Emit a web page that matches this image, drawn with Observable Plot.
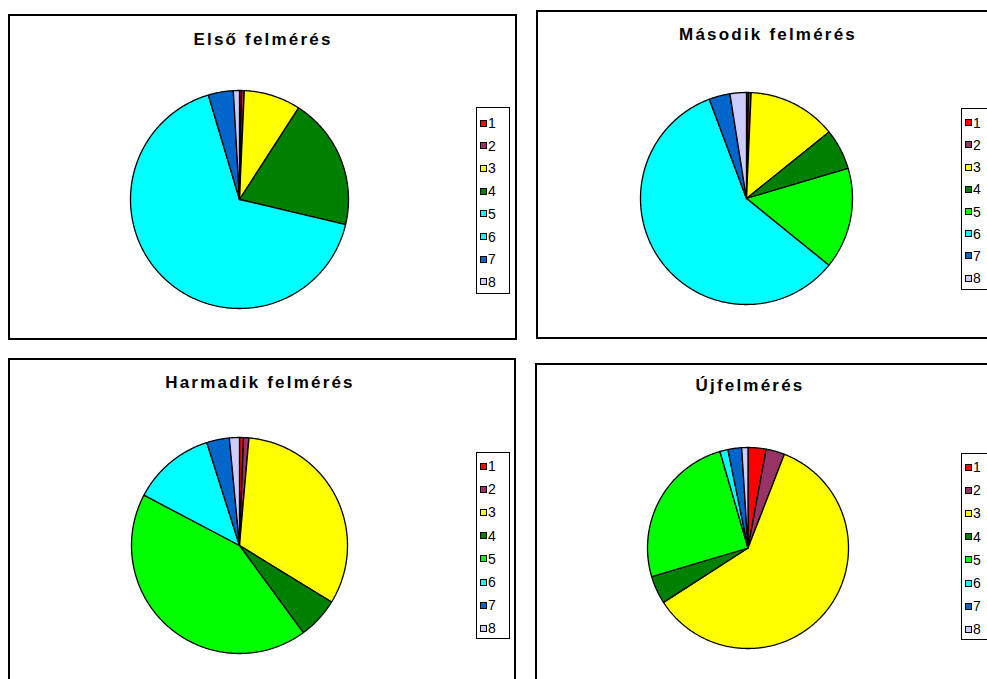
<!DOCTYPE html>
<html>
<head>
<meta charset="utf-8">
<script src="https://cdn.jsdelivr.net/npm/d3@7"></script>
<script src="https://cdn.jsdelivr.net/npm/@observablehq/plot@0.6"></script>
<style>
  html, body { margin: 0; padding: 0; background: #fff; }
  body { width: 987px; height: 679px; overflow: hidden; position: relative; font-family: "Liberation Sans", Arial, sans-serif; }
  .panel { position: absolute; border: 2px solid #000; box-sizing: border-box; background: #fff; }
  .title { position: absolute; font-weight: bold; font-size: 17px; letter-spacing: 2.2px; transform: translate(-50%, -50%); white-space: nowrap; color: #000; }
  .legend { position: absolute; border: 1px solid #000; box-sizing: border-box; background: #fff; }
  .item { position: absolute; font-size: 14px; line-height: 14px; color: #000; }
  .sw { position: absolute; width: 5px; height: 5px; border: 1px solid #000; }
  .pie { position: absolute; }
</style>
</head>
<body>
<script>
// ---- data ----
const categories = ["1", "2", "3", "4", "5", "6", "7", "8"];
const titles = ["Első felmérés", "Második felmérés", "Harmadik felmérés", "Újfelmérés"];
const elso      = [0.3, 0.4,  8.4, 19.5, 66.5,  0.0, 3.7, 0.9];
const masodik   = [0.3, 0.4, 13.5,  6.2, 15.4, 58.4, 3.2, 2.5];
const harmadik  = [0.6, 0.8, 32.4,  6.2, 42.8, 12.4, 3.4, 1.5];
const ujfelmeres= [2.9, 3.0, 60.0,  4.5, 25.1,  1.3, 2.2, 1.0];

// ---- styles ----
const baseColors  = ["#FF0000", "#993366", "#FFFF00", "#008000", "#00FF00", "#00FFFF", "#0066CC", "#CCCCFF"];
const firstColors = ["#FF0000", "#993366", "#FFFF00", "#008000", "#00FFFF", "#00FFFF", "#0066CC", "#CCCCFF"];

const panels = [
  {values: elso, colors: firstColors, box: [8, 14, 509, 326], title: [263, 40], pie: [239, 199, 109], legend: [476, 107, 34, 187, 123, 22.7]},
  {values: masodik, colors: baseColors, box: [536, 10, 470, 329], title: [768, 35], pie: [746, 198, 106], legend: [961, 108, 40, 182, 122.7, 22.2]},
  {values: harmadik, colors: baseColors, box: [8, 358, 508, 340], title: [260, 383], pie: [239, 545, 108], legend: [476, 452, 34, 187, 466, 23.2]},
  {values: ujfelmeres, colors: baseColors, box: [535, 363, 470, 340], title: [750, 386], pie: [747, 547, 100.5], legend: [961, 453, 40, 187, 467, 23.2]}
];

function piePlot(values, colors, R) {
  const arcs = d3.pie().sort(null).value(d => d.v)(categories.map((c, i) => ({c, v: values[i]})));
  const pts = [];
  for (const a of arcs) {
    if (!(a.data.v > 0)) continue;
    pts.push({c: a.data.c, x: 0, y: 0});
    const n = Math.max(2, Math.ceil((a.endAngle - a.startAngle) / 0.01));
    for (let k = 0; k <= n; k++) {
      const t = a.startAngle + (a.endAngle - a.startAngle) * k / n;
      pts.push({c: a.data.c, x: Math.sin(t), y: Math.cos(t)});
    }
    pts.push({c: a.data.c, x: 0, y: 0});
  }
  const size = 2 * R + 8;
  const ext = size / (2 * R);
  return Plot.plot({
    width: size, height: size, margin: 0,
    style: {background: "transparent"},
    x: {domain: [-ext, ext], axis: null},
    y: {domain: [-ext, ext], axis: null},
    color: {domain: categories, range: colors},
    marks: [
      Plot.line(pts, {x: "x", y: "y", z: "c", fill: "c", stroke: "#000", strokeWidth: 1.3, strokeLinejoin: "miter"})
    ]
  });
}

panels.forEach((p, idx) => {
  const box = document.createElement("div");
  box.className = "panel";
  Object.assign(box.style, {left: p.box[0] + "px", top: p.box[1] + "px", width: p.box[2] + "px", height: p.box[3] + "px"});
  document.body.appendChild(box);

  const t = document.createElement("div");
  t.className = "title";
  t.textContent = titles[idx];
  Object.assign(t.style, {left: p.title[0] + "px", top: p.title[1] + "px"});
  document.body.appendChild(t);

  const [cx, cy, R] = p.pie;
  const svg = piePlot(p.values, p.colors, R);
  const size = 2 * R + 8;
  const wrap = document.createElement("div");
  wrap.className = "pie";
  Object.assign(wrap.style, {left: (cx - size / 2) + "px", top: (cy - size / 2) + "px"});
  wrap.appendChild(svg);
  document.body.appendChild(wrap);

  const [lx, ly, lw, lh, firstY, step] = p.legend;
  const lg = document.createElement("div");
  lg.className = "legend";
  Object.assign(lg.style, {left: lx + "px", top: ly + "px", width: lw + "px", height: lh + "px"});
  document.body.appendChild(lg);
  categories.forEach((c, i) => {
    const yc = firstY + i * step;
    const sw = document.createElement("div");
    sw.className = "sw";
    Object.assign(sw.style, {left: (lx + 4) + "px", top: (yc - 3.5) + "px", background: p.colors[i]});
    document.body.appendChild(sw);
    const tx = document.createElement("div");
    tx.className = "item";
    tx.textContent = c;
    Object.assign(tx.style, {left: (lx + 12) + "px", top: (yc - 7) + "px"});
    document.body.appendChild(tx);
  });
});
</script>
</body>
</html>
